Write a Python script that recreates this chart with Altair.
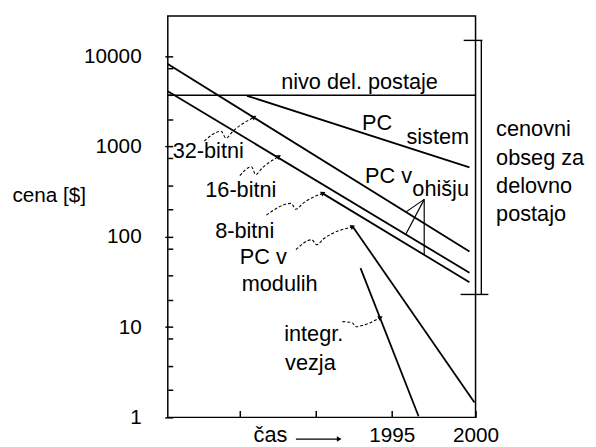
import altair as alt
import pandas as pd

FONT = "Liberation Sans"

# ---- axis ticks ----
major_ticks = [1, 10, 100, 1000, 10000]
minor_ticks = [2, 3.7, 7.4, 20, 37, 74, 200, 370, 740, 2000, 3700, 7400]
x_ticks = [1985, 1990, 1995, 2000.5]

# ---- main lines (year, price $) ----
yr_32 = [1980.3, 2000.1]
cena_32 = [8200, 69]
yr_16 = [1980.3, 2000.1]
cena_16 = [4100, 40]
yr_8 = [1990.46, 2000.1]
cena_8 = [303, 31.4]
yr_sistem = [1985.5, 2000.1]
cena_sistem = [3650, 587]
yr_modul = [1992.4, 2000.43]
cena_modul = [133, 1.46]
yr_ic = [1992.95, 1996.76]
cena_ic = [45, 1.03]
yr_nivo = [1980.3, 2000.5]
cena_nivo = [3700, 3700]

# ---- squiggly pointers ----
sq32_x = [1982.69, 1983.80, 1984.12, 1984.57, 1985.93]
sq32_y = [1148, 1477, 1239, 1477, 2100]
sq16_x = [1985.03, 1985.80, 1986.06, 1986.51, 1987.55]
sq16_y = [476, 597, 488, 582, 768]
sq8_x = [1986.77, 1988.39, 1988.71, 1989.17, 1990.46]
sq8_y = [174, 235, 202, 235, 303]
sqmod_x = [1988.71, 1989.75, 1990.07, 1990.53, 1992.40]
sqmod_y = [72.1, 92.7, 81.8, 95.1, 129]
sqic_x = [1991.76, 1992.40, 1992.66, 1993.05, 1994.22]
sqic_y = [11.5, 11.2, 10.1, 10.4, 12.7]
head_angle = [56, 55, 63, 67, 66]

# "čas" arrow
cas_x = [1988.71, 1991.5]
cas_y = [0.575, 0.575]

# ---- "PC v ohišju" pointer lines ----
ohi_apex = (1997.13, 260)
ohi_tx = [1995.94, 1995.94, 1997.13]
ohi_ty = [189, 108, 63.6]

# ---- bracket "cenovni obseg" ----
br_x1 = [2000.88, 1999.72, 1999.52]
br_x2 = [2000.88, 2000.95, 2001.34]
br_y1 = [15000, 15000, 23]
br_y2 = [23, 15000, 23]

# ---- text labels ----
labels = ["nivo del. postaje", "PC", "sistem", "32-bitni", "16-bitni", "8-bitni",
          "PC v", "modulih", "PC v", "ohišju", "integr.", "vezja",
          "cenovni", "obseg za", "delovno", "postajo", "čas"]
label_x = [1987.74, 1993.05, 1995.96, 1980.62, 1982.76, 1983.41,
           1985.03, 1985.15, 1993.25, 1996.35, 1987.94, 1988.0,
           2001.85, 2001.85, 2001.85, 2001.85, 1985.93]
label_y = [4357, 1514, 1065, 749, 274, 97.5,
           49.4, 25.1, 399, 281, 6.94, 3.35,
           1303, 628, 303, 150, 0.54]

# ---- build tables ----
rows = []
for name, xs_, ys_ in [("32", yr_32, cena_32), ("16", yr_16, cena_16), ("8", yr_8, cena_8),
                       ("sistem", yr_sistem, cena_sistem), ("modul", yr_modul, cena_modul),
                       ("ic", yr_ic, cena_ic)]:
    for i, (a, b) in enumerate(zip(xs_, ys_)):
        rows.append({"s": name, "o": i, "year": a, "price": b})
lines_df = pd.DataFrame(rows)
nivo_df = pd.DataFrame({"s": "nivo", "o": [0, 1], "year": yr_nivo, "price": cena_nivo})

sq_rows = []
heads = []
for k, (name, xs_, ys_) in enumerate([("32", sq32_x, sq32_y), ("16", sq16_x, sq16_y), ("8", sq8_x, sq8_y),
                                      ("mod", sqmod_x, sqmod_y), ("ic", sqic_x, sqic_y)]):
    for i, (a, b) in enumerate(zip(xs_, ys_)):
        sq_rows.append({"s": name, "o": i, "year": a, "price": b})
    heads.append({"year": xs_[-1], "price": ys_[-1], "angle": head_angle[k]})
heads.append({"year": cas_x[-1], "price": cas_y[-1], "angle": 90})
sq_df = pd.DataFrame(sq_rows)
heads_df = pd.DataFrame(heads)
cas_df = pd.DataFrame({"s": "cas", "o": [0, 1], "year": cas_x, "price": cas_y})

ohi_rows = []
for k, (a, b) in enumerate(zip(ohi_tx, ohi_ty)):
    ohi_rows.append({"s": str(k), "o": 0, "year": ohi_apex[0], "price": ohi_apex[1]})
    ohi_rows.append({"s": str(k), "o": 1, "year": a, "price": b})
ohi_df = pd.DataFrame(ohi_rows)

br_df = pd.DataFrame({"year": br_x1, "x2": br_x2, "price": br_y1, "y2": br_y2})
txt_df = pd.DataFrame({"label": labels, "year": label_x, "price": label_y})

# ---- scales & axes ----
xs = alt.Scale(domain=[1980.3, 2000.5], nice=False, zero=False)
ys = alt.Scale(type="log", domain=[1, 28000], nice=False)

major_test = "indexof([1,10,100,1000,10000], datum.value) >= 0"
x_axis = alt.Axis(values=x_ticks, title=None, domain=False, grid=False,
                  labelExpr="datum.value == 1995 ? '1995' : (datum.value > 2000 ? '2000' : '')",
                  offset=-7, tickSize=7, tickColor="black", tickWidth=1.5,
                  labelFont=FONT, labelFontSize=21, labelColor="black", labelPadding=7,
                  labelFlush=False, labelOverlap=False)
y_axis = alt.Axis(values=major_ticks + minor_ticks, domain=False, grid=False,
                  labelExpr=f"{major_test} ? '' + datum.value : ''",
                  offset=-5,
                  tickSize={"condition": {"test": major_test, "value": 8}, "value": 5},
                  tickColor="black", tickWidth=1.5,
                  labelFont=FONT, labelFontSize=21, labelColor="black", labelPadding=24,
                  labelOverlap=False, labelBound=False,
                  title="cena [$]", titleAngle=0, titleAlign="left", titleBaseline="alphabetic",
                  titleX=-163, titleY=188, titleFont=FONT, titleFontSize=21,
                  titleFontWeight="normal", titleColor="black")

X = alt.X("year:Q", scale=xs, axis=x_axis)
Y = alt.Y("price:Q", scale=ys, axis=y_axis)

main = alt.Chart(lines_df).mark_line(color="black", strokeWidth=1.8).encode(
    x=X, y=Y, detail="s:N", order="o:Q")
nivo = alt.Chart(nivo_df).mark_line(color="black", strokeWidth=1.3).encode(
    x=X, y=Y, detail="s:N", order="o:Q")
squig = alt.Chart(sq_df).mark_line(color="black", strokeWidth=1.1, strokeDash=[3, 2],
                                   interpolate="monotone").encode(
    x=X, y=Y, detail="s:N", order="o:Q")
cas_line = alt.Chart(cas_df).mark_line(color="black", strokeWidth=1.3).encode(
    x=X, y=Y, detail="s:N", order="o:Q")
arrows = alt.Chart(heads_df).mark_point(shape="triangle", filled=True, color="black",
                                        size=30, opacity=1).encode(
    x=X, y=Y, angle=alt.Angle("angle:Q", scale=None))
ohi = alt.Chart(ohi_df).mark_line(color="black", strokeWidth=1.2).encode(
    x=X, y=Y, detail="s:N", order="o:Q")
bracket = alt.Chart(br_df).mark_rule(color="black", strokeWidth=1.4).encode(
    x=X, x2="x2:Q", y=Y, y2="y2:Q")
texts = alt.Chart(txt_df).mark_text(align="left", baseline="alphabetic", font=FONT,
                                    fontSize=22, color="black").encode(
    x=X, y=Y, text="label:N")

chart = alt.layer(main, nivo, squig, cas_line, arrows, ohi, bracket, texts).properties(
    width=312, height=407,
    autosize=alt.AutoSizeParams(type="none"),
    padding={"left": 162, "top": 5, "right": 114, "bottom": 27},
    background="white",
).configure_view(stroke="black", strokeWidth=1.5)

chart.save("out.html", embed_options={"renderer": "svg", "actions": False})
